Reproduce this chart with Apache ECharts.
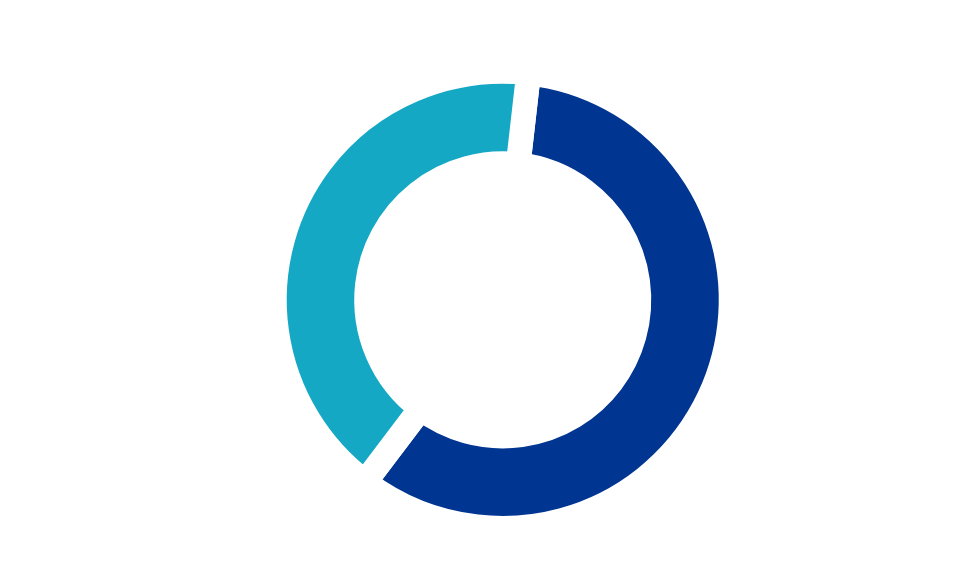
<!DOCTYPE html>
<html>
<head>
<meta charset="utf-8">
<script src="https://cdn.jsdelivr.net/npm/echarts@6/dist/echarts.min.js"></script>
<style>
html, body { margin: 0; padding: 0; background: #fff; }
#donutChart { width: 980px; height: 580px; }
</style>
</head>
<body>
<div id="donutChart"></div>
<script>
// 两段环形图
var sliceNames = ['A', 'B'];
var sliceValues = [58.5, 41.5];
var sliceColors = ['#003591', '#14a8c4'];

var donutChart = echarts.init(document.getElementById('donutChart')),
donutOption = {
    animation: false,
    series: [
        {
            type: 'pie',
            center: ['51.3%', '51.7%'],
            // 白色描边会吃掉半个边宽，所以半径比看到的大一点
            radius: ['46.95%', '78.74%'],
            startAngle: 83.5,
            clockwise: true,
            itemStyle: {
                borderColor: '#fff',
                borderWidth: 24.7
            },
            label: { show: false },
            labelLine: { show: false },
            emphasis: { disabled: true },
            data: sliceNames.map(function (name, i) {
                return { name: name, value: sliceValues[i], itemStyle: { color: sliceColors[i] } };
            })
        }
    ]
};
donutChart.setOption(donutOption);
</script>
</body>
</html>
